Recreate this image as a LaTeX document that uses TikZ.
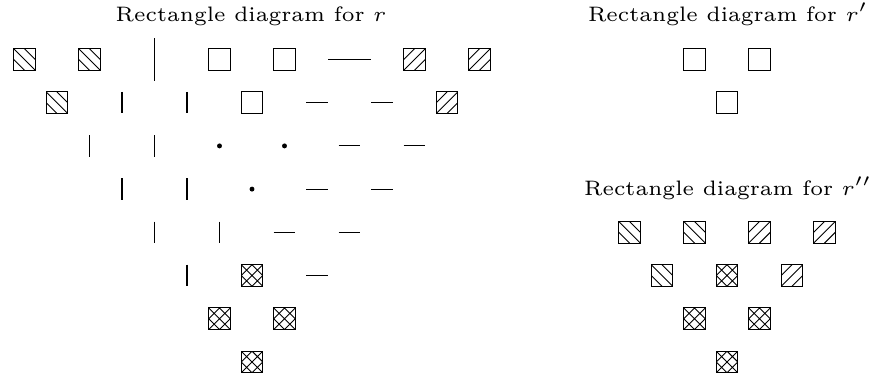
\documentclass[tikz,border=0pt]{standalone}
\usepackage{graphicx}
\newsavebox\ttlbox
\newcommand{\ttltext}[1]{\scalebox{\ttlscale}{\fontsize{6}{7}\selectfont #1}}
\begin{document}
\sbox\ttlbox{\fontsize{6}{7}\selectfont Rectangle diagram for $r'$}%
\pgfmathsetmacro\ttlscale{107.8/\wd\ttlbox}%
\begin{tikzpicture}[x=0.385pt,y=-0.385pt,
  sq/.style={draw, rectangle, minimum size=8.3pt, inner sep=0pt, line width=0.4pt},
  hnw/.style={sq, path picture={\draw[line width=0.35pt]
      (path picture bounding box.north west) -- (path picture bounding box.south east)
      (path picture bounding box.north) -- (path picture bounding box.east)
      (path picture bounding box.west) -- (path picture bounding box.south);}},
  hne/.style={sq, path picture={\draw[line width=0.35pt]
      (path picture bounding box.south west) -- (path picture bounding box.north east)
      (path picture bounding box.west) -- (path picture bounding box.north)
      (path picture bounding box.south) -- (path picture bounding box.east);}},
  hx/.style={sq, path picture={\draw[line width=0.35pt]
      (path picture bounding box.north west) -- (path picture bounding box.south east)
      (path picture bounding box.south west) -- (path picture bounding box.north east)
      (path picture bounding box.north) -- (path picture bounding box.east)
      -- (path picture bounding box.south) -- (path picture bounding box.west) -- cycle;}},
  vbar/.style={rectangle, inner sep=0pt, minimum width=2pt, minimum height=8.3pt,
      path picture={\draw[line width=0.4pt] (path picture bounding box.north) -- (path picture bounding box.south);}},
  vbarL/.style={vbar, minimum height=16.3pt},
  hbar/.style={rectangle, inner sep=0pt, minimum height=2pt, minimum width=8.3pt,
      path picture={\draw[line width=0.4pt] (path picture bounding box.west) -- (path picture bounding box.east);}},
  hbarL/.style={hbar, minimum width=16.4pt},
  dotmk/.style={circle, fill, inner sep=0pt, minimum size=1.9pt},
  title/.style={anchor=base, inner sep=0pt}
]
\useasboundingbox (0,0) rectangle (881,379);

\node[title] (tl) at (251,21) {\ttltext{Rectangle diagram for $r$}};
\node[title] (tr1) at (728,21) {\ttltext{Rectangle diagram for $r'$}};
\node[title] (tr2) at (728,195) {\ttltext{Rectangle diagram for $r''$}};

\begin{scope}[shift={(24.5,59.5)}, x=12.5125pt, y=-16.632pt]
  % row 0
  \node[hnw] (a00) at (0,0) {};
  \node[hnw] (a20) at (2,0) {};
  \node[vbarL] (a40) at (4,0) {};
  \node[sq] (a60) at (6,0) {};
  \node[sq] (a80) at (8,0) {};
  \node[hbarL] (a100) at (10,0) {};
  \node[hne] (a120) at (12,0) {};
  \node[hne] (a140) at (14,0) {};
  % row 1
  \node[hnw] (a11) at (1,1) {};
  \node[vbar] (a31) at (3,1) {};
  \node[vbar] (a51) at (5,1) {};
  \node[sq] (a71) at (7,1) {};
  \node[hbar] (a91) at (9,1) {};
  \node[hbar] (a111) at (11,1) {};
  \node[hne] (a131) at (13,1) {};
  % row 2
  \node[vbar] (a22) at (2,2) {};
  \node[vbar] (a42) at (4,2) {};
  \node[dotmk] (a62) at (6,2) {};
  \node[dotmk] (a82) at (8,2) {};
  \node[hbar] (a102) at (10,2) {};
  \node[hbar] (a122) at (12,2) {};
  % row 3
  \node[vbar] (a33) at (3,3) {};
  \node[vbar] (a53) at (5,3) {};
  \node[dotmk] (a73) at (7,3) {};
  \node[hbar] (a93) at (9,3) {};
  \node[hbar] (a113) at (11,3) {};
  % row 4
  \node[vbar] (a44) at (4,4) {};
  \node[vbar] (a64) at (6,4) {};
  \node[hbar] (a84) at (8,4) {};
  \node[hbar] (a104) at (10,4) {};
  % row 5
  \node[vbar] (a55) at (5,5) {};
  \node[hx] (a75) at (7,5) {};
  \node[hbar] (a95) at (9,5) {};
  % row 6
  \node[hx] (a66) at (6,6) {};
  \node[hx] (a86) at (8,6) {};
  % row 7
  \node[hx] (a77) at (7,7) {};
\end{scope}

\begin{scope}[shift={(629.5,59.5)}, x=12.5125pt, y=-16.632pt]
  \node[sq] (b20) at (2,0) {};
  \node[sq] (b40) at (4,0) {};
  \node[sq] (b31) at (3,1) {};
  \node[hnw] (c04) at (0,4) {};
  \node[hnw] (c24) at (2,4) {};
  \node[hne] (c44) at (4,4) {};
  \node[hne] (c64) at (6,4) {};
  \node[hnw] (c15) at (1,5) {};
  \node[hx] (c35) at (3,5) {};
  \node[hne] (c55) at (5,5) {};
  \node[hx] (c26) at (2,6) {};
  \node[hx] (c46) at (4,6) {};
  \node[hx] (c37) at (3,7) {};
\end{scope}
\end{tikzpicture}
\end{document}
